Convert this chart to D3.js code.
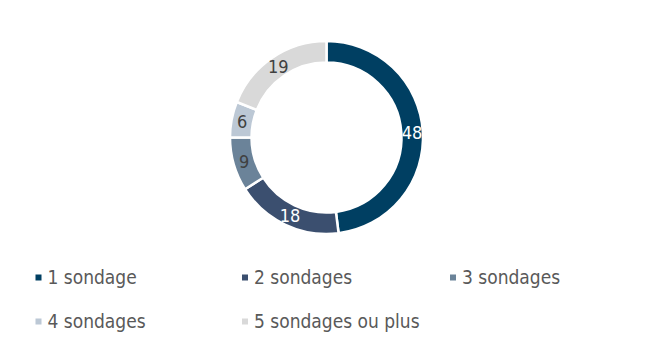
<!DOCTYPE html>
<html><head><meta charset="utf-8">
<script src="https://cdn.jsdelivr.net/npm/d3@7"></script>
<style>
body{margin:0;background:#fff;}
text{font-family:"DejaVu Sans Condensed","DejaVu Sans",sans-serif;font-stretch:condensed;}
</style></head>
<body><svg id="c" width="653" height="356"></svg>
<script>
const categories = ["1 sondage","2 sondages","3 sondages","4 sondages","5 sondages ou plus"];
const values = [48,18,9,6,19];
const colors = ["#003f62","#3b4f6f","#6b8399","#bcc8d5","#d9d9d9"];
const labelColors = ["#ffffff","#ffffff","#404040","#404040","#404040"];

const svg = d3.select("#c");
const cx = 326.5, cy = 137.5, rOut = 96.5, rIn = 75;
const pie = d3.pie().sort(null).value(d=>d.v);
const data = pie(values.map((v,i)=>({v,i})));
const arc = d3.arc().innerRadius(rIn).outerRadius(rOut);
const g = svg.append("g").attr("transform",`translate(${cx},${cy})`);
g.selectAll("path").data(data).join("path")
  .attr("d",arc).attr("fill",d=>colors[d.data.i])
  .attr("stroke","#fff").attr("stroke-width",2.5);
g.selectAll("text").data(data).join("text")
  .attr("transform",d=>`translate(${arc.centroid(d)})`)
  .attr("text-anchor","middle").attr("dy","0.36em")
  .attr("font-size",18).attr("fill",d=>labelColors[d.data.i])
  .text(d=>d.data.v);

const legX = [35.5,242,450,35.5,242];
const legY = [277,277,277,321,321];
const leg = svg.append("g");
categories.forEach((c,i)=>{
  leg.append("rect").attr("x",legX[i]).attr("y",legY[i]-2.5).attr("width",6).attr("height",6).attr("fill",colors[i]);
  leg.append("text").attr("x",legX[i]+12).attr("y",legY[i]).attr("dy","0.36em")
    .attr("font-size",19).attr("fill","#595959").text(c);
});
</script></body></html>
